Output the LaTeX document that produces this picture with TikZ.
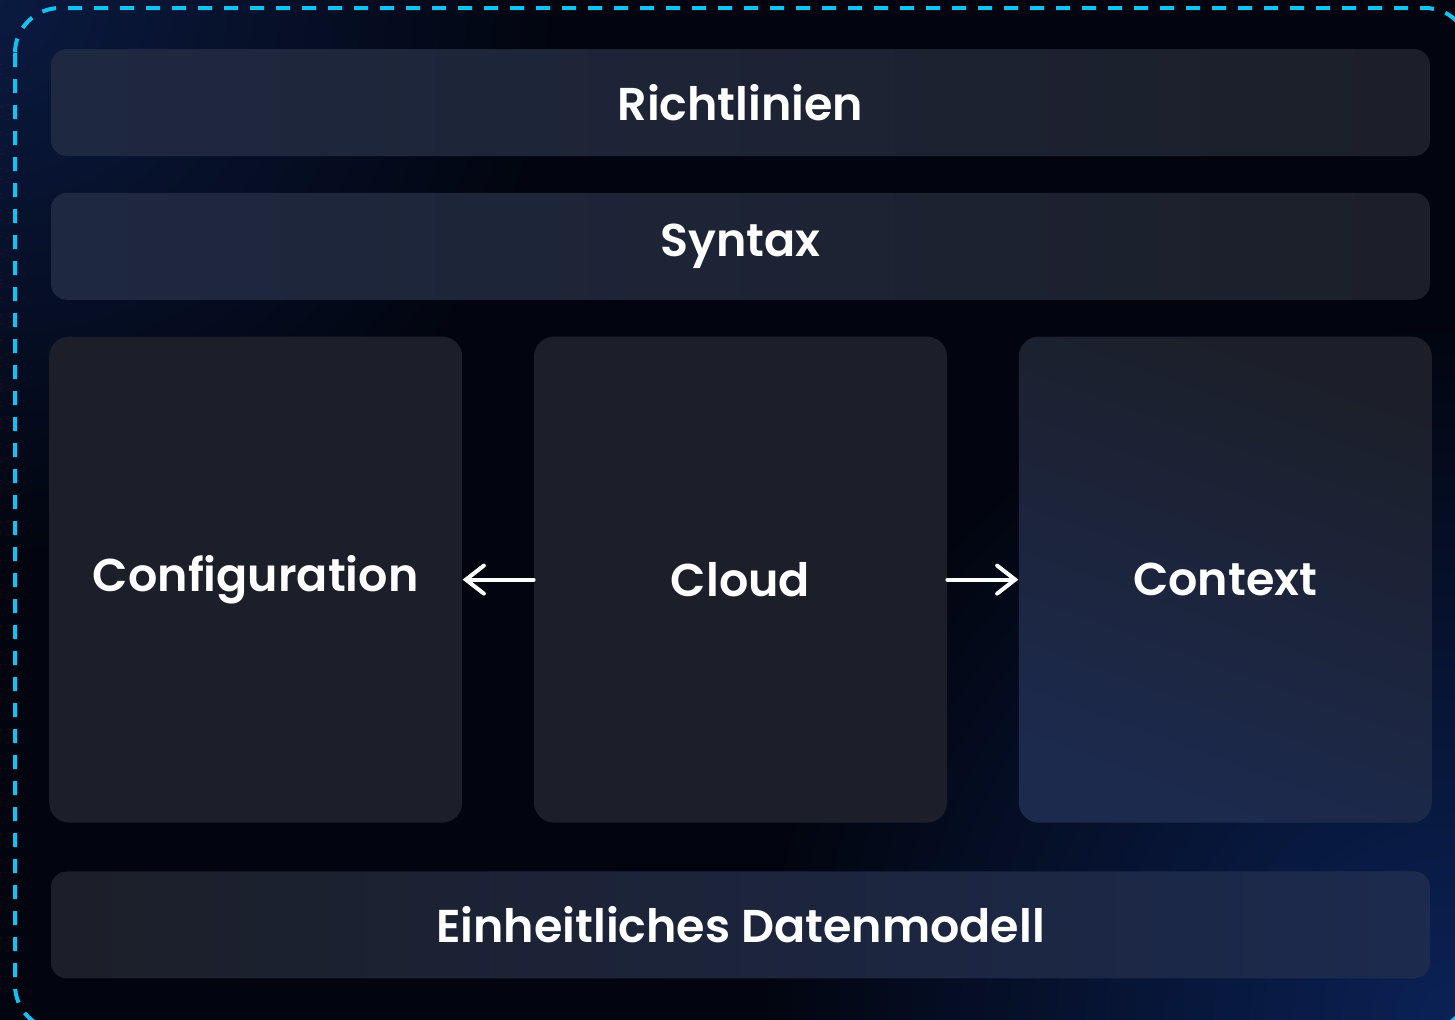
\documentclass[tikz,border=0pt]{standalone}
\usepackage{fontspec}
\setmainfont{Poppins}[BoldFont={Poppins SemiBold}]
\usetikzlibrary{positioning,arrows.meta}
\definecolor{bgnavy}{HTML}{0A1A40}
\definecolor{bgdark}{HTML}{02050F}
\definecolor{bgdeep}{HTML}{0B2256}
\definecolor{boxblue}{HTML}{1E2840}
\definecolor{boxgray}{HTML}{1C1F29}
\definecolor{boxdeep}{HTML}{1C2A4E}
\definecolor{dashcyan}{HTML}{12C2F2}
\begin{document}
\begin{tikzpicture}[x=0.5pt, y=-0.5pt,
  layer/.style={rounded corners=8pt, minimum width=689.5pt, minimum height=53.5pt, text=white,
    font=\fontsize{23}{28}\selectfont\bfseries},
  pillar/.style={layer, rounded corners=10pt, minimum width=206.5pt, minimum height=243pt},
  flow/.style={white, line width=2pt, line cap=round, -{Straight Barb[length=9pt,width=14pt,line cap=round]}}]
  \useasboundingbox (0,0) rectangle (1455,1019);
  \fill[bgdark] (-20,-20) rectangle (1475,1039);
  \shade[inner color=bgnavy, outer color=bgdark] (0,0) circle (560);
  \shade[inner color=bgdeep, outer color=bgdark] (1455,1019) circle (700);
  \draw[dashcyan, line width=2pt, dash pattern=on 7pt off 6pt, rounded corners=22.5pt] (15,8) rectangle (1470,1030);

  \node[layer, left color=boxblue, right color=boxgray] (richt) at (740.5,102.5) {Richtlinien};
  \node[layer, left color=boxblue, right color=boxgray, below=18pt of richt] (syntax) {Syntax};
  \node[pillar, top color=boxgray, bottom color=boxgray, below=18pt of syntax] (cloud) {Cloud};
  \node[pillar, top color=boxgray, bottom color=boxgray, left=35.5pt of cloud] (config) {Configuration};
  \node[pillar, top color=boxgray, bottom color=boxdeep, shading angle=-20, right=35.5pt of cloud] (context) {Context};
  \node[layer, left color=boxgray, right color=boxdeep, below=24pt of cloud] (daten) {Einheitliches Datenmodell};

  \draw[flow] (cloud.west) -- (config.east);
  \draw[flow] (cloud.east) -- (context.west);
\end{tikzpicture}
\end{document}
